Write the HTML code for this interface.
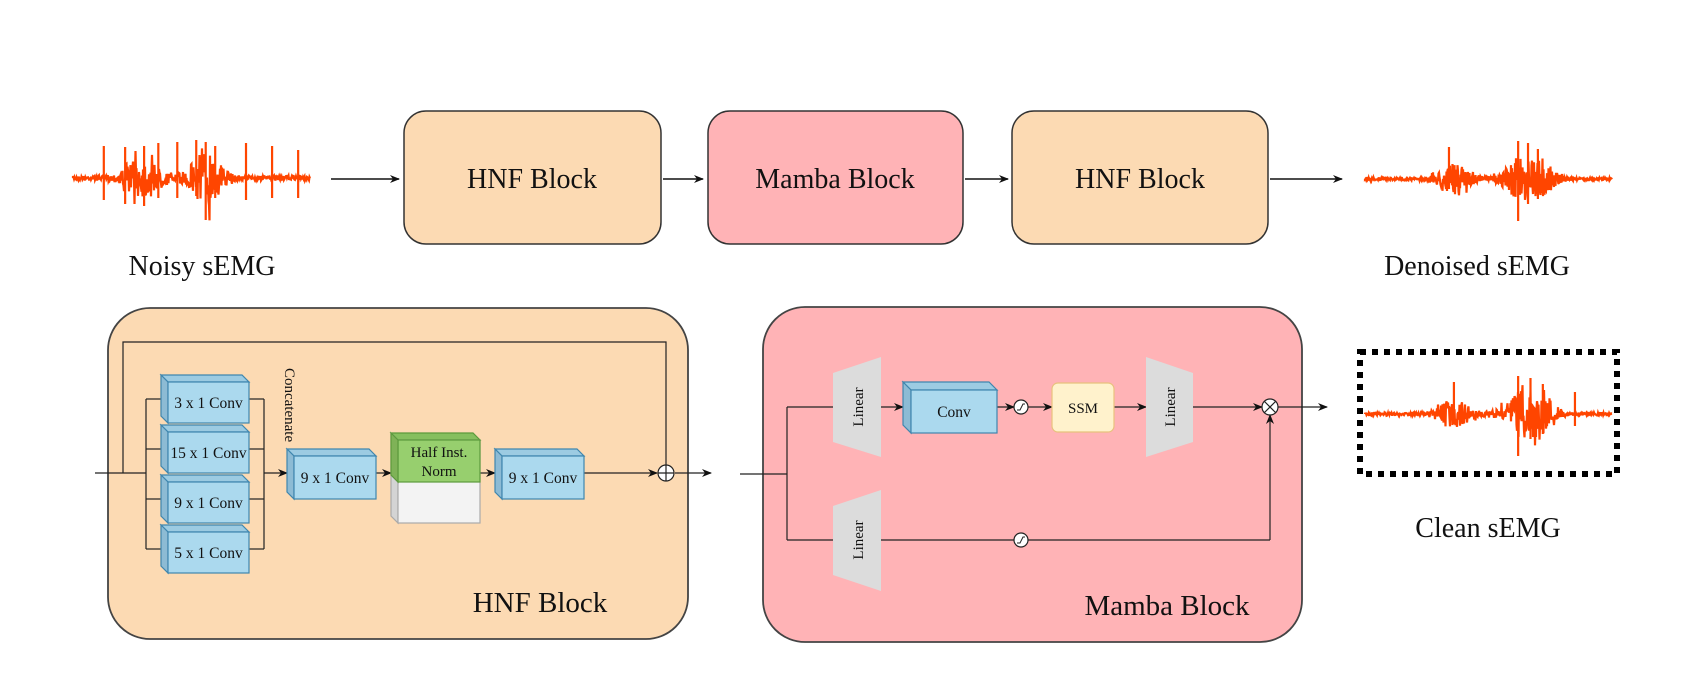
<!DOCTYPE html>
<html><head><meta charset="utf-8"><style>
html,body{margin:0;padding:0;background:#fff;}
svg{display:block;}
text{font-family:"Liberation Serif",serif;fill:#111;}
</style></head><body>
<svg id="s" width="1690" height="682" viewBox="0 0 1690 682" xmlns="http://www.w3.org/2000/svg">
<defs>
<marker id="ar" markerWidth="10" markerHeight="8" refX="9" refY="4" orient="auto" markerUnits="userSpaceOnUse"><path d="M0,0 L10,4 L0,8 L3,4 z" fill="#111"/></marker>
</defs>
<!-- top row -->
<rect x="404" y="111" width="257" height="133" rx="22" fill="#fcdab3" stroke="#333" stroke-width="1.5"/>
<rect x="708" y="111" width="255" height="133" rx="22" fill="#ffb3b6" stroke="#333" stroke-width="1.5"/>
<rect x="1012" y="111" width="256" height="133" rx="22" fill="#fcdab3" stroke="#333" stroke-width="1.5"/>
<text x="532" y="188" font-size="28" text-anchor="middle">HNF Block</text>
<text x="835" y="188" font-size="28" text-anchor="middle">Mamba Block</text>
<text x="1140" y="188" font-size="28" text-anchor="middle">HNF Block</text>
<g stroke="#111" stroke-width="1.5" marker-end="url(#ar)">
<line x1="331" y1="179" x2="399" y2="179"/>
<line x1="663" y1="179" x2="703" y2="179"/>
<line x1="965" y1="179" x2="1008" y2="179"/>
<line x1="1270" y1="179" x2="1342" y2="179"/>
</g>
<text x="202" y="275" font-size="28" text-anchor="middle">Noisy sEMG</text>
<text x="1477" y="275" font-size="28" text-anchor="middle">Denoised sEMG</text>

<!-- HNF detail -->
<rect x="108" y="308" width="580" height="331" rx="42" fill="#fcdab3" stroke="#444" stroke-width="1.8"/>
<text x="540" y="612" font-size="29" text-anchor="middle">HNF Block</text>
<g stroke="#222" stroke-width="1.2" fill="none">
<line x1="95" y1="473" x2="146" y2="473"/>
<polyline points="123,473 123,342 666,342 666,465"/>
<line x1="146" y1="399" x2="146" y2="549"/>
<line x1="146" y1="399" x2="161" y2="399"/>
<line x1="146" y1="449" x2="161" y2="449"/>
<line x1="146" y1="499" x2="161" y2="499"/>
<line x1="146" y1="549" x2="161" y2="549"/>
<line x1="249" y1="399" x2="264" y2="399"/>
<line x1="249" y1="449" x2="264" y2="449"/>
<line x1="249" y1="499" x2="264" y2="499"/>
<line x1="249" y1="549" x2="264" y2="549"/>
<line x1="264" y1="399" x2="264" y2="549"/>
</g>
<g stroke="#222" stroke-width="1.2" marker-end="url(#ar)">
<line x1="264" y1="473" x2="287" y2="473"/>
<line x1="376" y1="473" x2="391" y2="473"/>
<line x1="480" y1="473" x2="495" y2="473"/>
<line x1="584" y1="473" x2="657" y2="473"/>
<line x1="675" y1="473" x2="711" y2="473"/>
</g>
<text transform="translate(285,368) rotate(90)" font-size="15">Concatenate</text>
<circle cx="666" cy="473" r="8" fill="#fff" stroke="#222" stroke-width="1.2"/>
<path d="M658,473 H674 M666,465 V481" stroke="#222" stroke-width="1.2"/>
<g id="boxes"></g>

<!-- Mamba detail -->
<rect x="763" y="307" width="539" height="335" rx="42" fill="#ffb3b6" stroke="#444" stroke-width="1.8"/>
<text x="1167" y="615" font-size="29" text-anchor="middle">Mamba Block</text>
<g stroke="#222" stroke-width="1.2" fill="none">
<line x1="740" y1="474" x2="787" y2="474"/>
<line x1="787" y1="407" x2="787" y2="540"/>
<line x1="787" y1="407" x2="833" y2="407"/>
<line x1="787" y1="540" x2="833" y2="540"/>
<line x1="881" y1="540" x2="1270" y2="540"/>
</g>
<g stroke="#222" stroke-width="1.2" marker-end="url(#ar)">
<line x1="881" y1="407" x2="903" y2="407"/>
<line x1="997" y1="407" x2="1014" y2="407"/>
<line x1="1028" y1="407" x2="1052" y2="407"/>
<line x1="1114" y1="407" x2="1146" y2="407"/>
<line x1="1193" y1="407" x2="1262" y2="407"/>
<line x1="1270" y1="540" x2="1270" y2="415"/>
<line x1="1278" y1="407" x2="1327" y2="407"/>
</g>
<polygon points="833,373 881,357 881,457 833,442" fill="#dcdcdc"/>
<polygon points="833,506 881,490 881,591 833,575" fill="#dcdcdc"/>
<polygon points="1146,357 1193,373 1193,442 1146,457" fill="#dcdcdc"/>
<text transform="translate(863,407) rotate(-90)" font-size="15" text-anchor="middle">Linear</text>
<text transform="translate(863,540) rotate(-90)" font-size="15" text-anchor="middle">Linear</text>
<text transform="translate(1175,407) rotate(-90)" font-size="15" text-anchor="middle">Linear</text>
<rect x="1052" y="383" width="62" height="49" rx="6" fill="#fff2cc" stroke="#e8c27d" stroke-width="1.2"/>
<text x="1083" y="413" font-size="15" text-anchor="middle">SSM</text>
<g id="boxes2"></g>
<g id="sig"></g>
<circle cx="1270" cy="407" r="8" fill="#fff" stroke="#222" stroke-width="1.2"/>
<path d="M1264.5,401.5 L1275.5,412.5 M1275.5,401.5 L1264.5,412.5" stroke="#222" stroke-width="1.2"/>

<!-- Clean -->
<rect x="1360" y="352" width="257" height="122" fill="none" stroke="#000" stroke-width="6" stroke-dasharray="6,6"/>
<text x="1488" y="537" font-size="28" text-anchor="middle">Clean sEMG</text>
<g id="waves" fill="none" stroke="#ff4500" stroke-width="2.2"></g>
</svg>
<script>
var NS="http://www.w3.org/2000/svg";
function el(t,a,p,txt){var e=document.createElementNS(NS,t);for(var k in a)e.setAttribute(k,a[k]);if(txt)e.textContent=txt;p.appendChild(e);return e;}
var B=document.getElementById('boxes');
function box(x,y,w,h,d,label,green,P){
  P=P||B;
  var fill="#abd9ee",top="#9ccbe2",side="#8dbbd4",st="#3f86ae";
  el('polygon',{points:[x,y,x+w-d,y,x+w,y+d,x+d,y+d].join(' '),fill:green?"#86bf5e":top,stroke:green?"#5c9a3c":st,'stroke-width':1.2},P);
  el('polygon',{points:[x,y,x+d,y+d,x+d,y+h,x,y+h-d].join(' '),fill:green?"#d4d4d4":side,stroke:green?"#aaa":st,'stroke-width':1.2},P);
  if(green){
    el('rect',{x:x+d,y:y+d,width:w-d,height:h-d,fill:"#f3f3f3",stroke:"#aaa",'stroke-width':1.2},P);
    el('rect',{x:x+d,y:y+d,width:w-d,height:42,fill:"#97cf6e",stroke:"#5c9a3c",'stroke-width':1.2},P);
    el('polygon',{points:[x,y,x+d,y+d,x+d,y+d+42,x,y+d+42-d].join(' '),fill:"#7fb257",stroke:"#5c9a3c",'stroke-width':1.2},P);
    el('text',{x:x+d+(w-d)/2,y:y+d+17,'font-size':15,'text-anchor':'middle'},P,"Half Inst.");
    el('text',{x:x+d+(w-d)/2,y:y+d+36,'font-size':15,'text-anchor':'middle'},P,"Norm");
  } else {
    el('rect',{x:x+d,y:y+d,width:w-d,height:h-d,fill:fill,stroke:st,'stroke-width':1.2},P);
    el('text',{x:x+d+(w-d)/2,y:y+d+(h-d)/2+5.5,'font-size':15.5,'text-anchor':'middle'},P,label);
  }
}
box(161,375,88,48,7,"3 x 1 Conv");
box(161,425,88,48,7,"15 x 1 Conv");
box(161,475,88,48,7,"9 x 1 Conv");
box(161,525,88,48,7,"5 x 1 Conv");
box(287,449,89,50,7,"9 x 1 Conv");
box(391,433,89,90,7,"",true);
box(495,449,89,50,7,"9 x 1 Conv");
box(903,382,94,51,8,"Conv",false,document.getElementById('boxes2'));
var S=document.getElementById('sig');
[[1021,407],[1021,540]].forEach(function(c){
  el('circle',{cx:c[0],cy:c[1],r:7,fill:"#fff",stroke:"#222",'stroke-width':1.2},S);
  el('path',{d:"M"+(c[0]-4)+","+(c[1]+3)+" L"+(c[0]-1)+","+(c[1]+3)+" L"+(c[0]+2)+","+(c[1]-3)+" L"+(c[0]+4)+","+(c[1]-3),stroke:"#222",fill:"none",'stroke-width':1},S);
});
var seed=7;function rnd(){seed=(seed*16807)%2147483647;return seed/2147483647;}
var W=document.getElementById('waves');
function wave(x0,x1,cy,bursts,spikes,base){
  var d="M"+x0+","+cy,w=x1-x0;
  for(var x=x0;x<=x1;x+=0.5){
    var f=(x-x0)/w,a=base;
    bursts.forEach(function(b){var g=Math.exp(-Math.pow((f-b[0])/b[1],2));a+=b[2]*g;});
    var y=cy+a*(rnd()*2-1)*(rnd()<0.15?1.5:1);
    d+=" L"+x.toFixed(1)+","+y.toFixed(1);
  }
  spikes.forEach(function(s){var x=x0+s[0]*w;d+=" M"+x+","+(cy-s[1])+" L"+x+","+(cy+s[2]);});
  el('path',{d:d},W);
}
wave(73,310,178,[[0.29,0.08,18],[0.56,0.07,28]],[[0.13,32,22],[0.22,31,26],[0.3,32,28],[0.36,35,20],[0.44,36,20],[0.52,38,18],[0.56,36,42],[0.6,32,20],[0.73,35,22],[0.84,32,20],[0.95,28,20]],2);
wave(1365,1612,179,[[0.36,0.07,14],[0.66,0.09,26]],[[0.34,32,10],[0.62,38,42],[0.66,36,25],[0.7,30,20]],1.3);
wave(1365,1612,414,[[0.36,0.07,14],[0.66,0.09,26]],[[0.36,32,10],[0.62,38,42],[0.67,36,25],[0.72,30,20],[0.85,22,12]],1.3);
</script>
</body></html>
